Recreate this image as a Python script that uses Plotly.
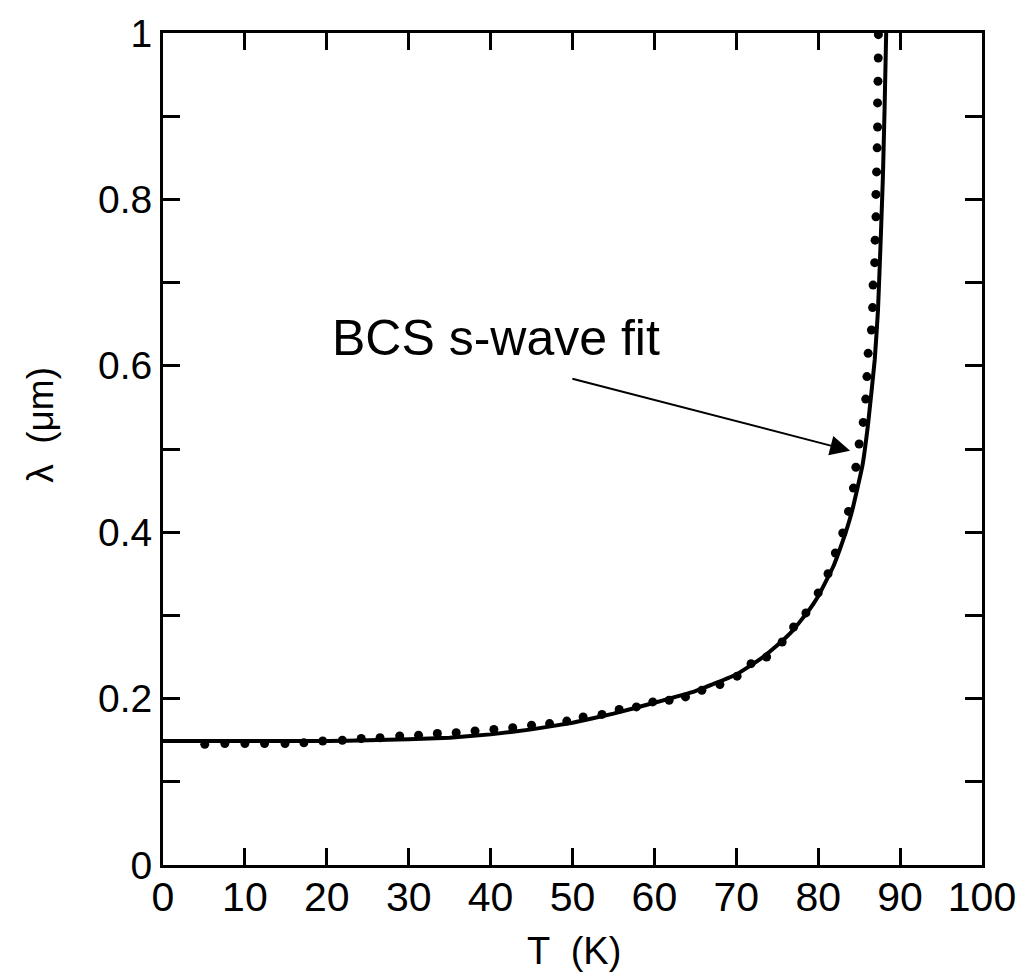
import plotly.graph_objects as go

# Measured penetration depth (dots)
T_data = [5.1, 7.55, 10.0, 12.4, 14.9, 17.2, 19.5, 21.9, 24.2, 26.5, 28.9, 31.2,
          33.5, 35.8, 38.1, 40.4, 42.7, 45.0, 47.2, 49.3, 51.3, 53.6, 55.7, 57.8,
          59.8, 61.8, 63.8, 65.8, 68.0, 70.1, 71.8, 73.7, 75.6, 77.0, 78.5, 80.0,
          81.2, 82.1, 83.0, 83.7, 84.3, 84.6, 85.0, 85.5, 85.8, 85.95, 86.1, 86.5,
          86.64, 86.7, 86.9, 86.95, 87.05, 87.05, 87.13, 87.2, 87.25, 87.25, 87.3,
          87.33, 87.35]
lam_data = [0.145, 0.146, 0.146, 0.146, 0.146, 0.147, 0.149, 0.150, 0.152, 0.153,
            0.155, 0.156, 0.158, 0.159, 0.161, 0.163, 0.165, 0.168, 0.170, 0.173,
            0.178, 0.181, 0.187, 0.190, 0.196, 0.198, 0.202, 0.210, 0.217, 0.227,
            0.242, 0.250, 0.268, 0.286, 0.303, 0.327, 0.350, 0.375, 0.399, 0.425,
            0.453, 0.478, 0.506, 0.532, 0.560, 0.587, 0.615, 0.643, 0.670, 0.697,
            0.724, 0.751, 0.779, 0.806, 0.833, 0.862, 0.887, 0.916, 0.942, 0.970,
            0.998]

# BCS s-wave fit curve
T_fit = [0, 10, 20, 25, 30, 35, 40, 45, 50, 55, 60, 65, 70, 73, 75, 77, 79, 80,
         81, 81.9, 82.7, 83.3, 84.2, 85.4, 86.1, 86.9, 87.3, 87.6, 87.9, 88.1, 88.3]
lam_fit = [0.149, 0.149, 0.149, 0.150, 0.151, 0.153, 0.157, 0.163, 0.171, 0.182,
           0.195, 0.209, 0.229, 0.248, 0.264, 0.283, 0.308, 0.323, 0.342, 0.360,
           0.381, 0.398, 0.428, 0.480, 0.531, 0.607, 0.667, 0.743, 0.827, 0.907,
           1.0]

x_ticks = [0, 10, 20, 30, 40, 50, 60, 70, 80, 90, 100]
y_ticks = [0, 0.1, 0.2, 0.3, 0.4, 0.5, 0.6, 0.7, 0.8, 0.9, 1.0]
y_labels = ["0", "", "0.2", "", "0.4", "", "0.6", "", "0.8", "", "1"]

FONT = "Liberation Sans, Arial, sans-serif"

fig = go.Figure()
fig.add_trace(go.Scatter(
    x=T_fit, y=lam_fit, mode="lines",
    line=dict(color="black", width=4, shape="spline", smoothing=0.3),
    showlegend=False,
))
fig.add_trace(go.Scatter(
    x=T_data, y=lam_data, mode="markers",
    marker=dict(color="black", size=9),
    showlegend=False, cliponaxis=False,
))

axis_common = dict(
    showline=True, linecolor="black", linewidth=3, mirror="ticks",
    ticks="inside", ticklen=17, tickwidth=3, tickcolor="black",
    showgrid=False, zeroline=False,
)

fig.update_xaxes(
    range=[0, 100], tickvals=x_ticks, ticktext=[str(v) for v in x_ticks],
    tickfont=dict(family=FONT, size=41, color="black"),
    ticklabelstandoff=-6,
    **axis_common,
)
fig.update_yaxes(
    range=[0, 1], tickvals=y_ticks, ticktext=y_labels,
    tickfont=dict(family=FONT, size=39, color="black"),
    **axis_common,
)

# Axis titles
fig.add_annotation(
    x=0.502, y=-0.103, xref="x domain", yref="y domain", text="T  (K)",
    xanchor="center", yanchor="middle",
    showarrow=False, font=dict(family=FONT, size=38, color="black"),
)
fig.add_annotation(
    x=-0.149, y=0.529, xref="x domain", yref="y domain", text="λ  (μm)",
    xanchor="center", yanchor="middle",
    textangle=-90, showarrow=False, font=dict(family=FONT, size=37, color="black"),
)

fig.add_annotation(
    x=40.6, y=0.633, xref="x", yref="y", text="BCS s-wave fit",
    xanchor="center", yanchor="middle",
    showarrow=False, font=dict(family=FONT, size=50, color="black"),
)
fig.add_annotation(
    x=83.9, y=0.498, ax=49.8, ay=0.585, xref="x", yref="y", axref="x", ayref="y",
    text="", showarrow=True, arrowhead=2, arrowsize=2, arrowwidth=2, arrowcolor="black",
)

fig.update_layout(
    width=1028, height=979,
    margin=dict(l=163, r=44, t=33, b=114),
    paper_bgcolor="white", plot_bgcolor="white",
)

fig.write_html("out.html")
